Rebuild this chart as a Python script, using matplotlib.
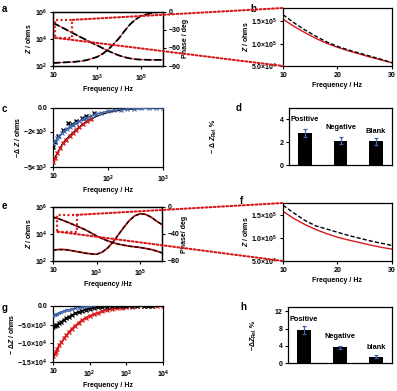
import numpy as np
import matplotlib
matplotlib.use('Agg')
import matplotlib.pyplot as plt
from matplotlib.patches import Rectangle, ConnectionPatch
from matplotlib.ticker import FixedLocator, FixedFormatter, NullLocator

plt.rcParams.update({
    'font.family': ['Liberation Sans', 'DejaVu Sans'],
    'font.weight': 'bold',
    'font.size': 5,
    'mathtext.fontset': 'custom',
    'mathtext.rm': 'Liberation Sans:bold',
    'mathtext.it': 'Liberation Sans:italic:bold',
    'mathtext.bf': 'Liberation Sans:bold',
    'mathtext.default': 'rm',
    'axes.linewidth': 0.9,
    'axes.labelweight': 'bold',
    'axes.labelpad': 2,
    'xtick.major.width': 0.8,
    'ytick.major.width': 0.8,
    'xtick.major.size': 2.5,
    'ytick.major.size': 2.5,
    'xtick.major.pad': 2,
    'ytick.major.pad': 1.5,
})

RED = '#d7191c'
BLUE = '#3f62a8'
DOT = (0, (0.9, 1.1))

# ---------------- data ----------------
# panel a (bode plot)
a_freq = [10, 18, 32, 56, 100, 178, 316, 562, 1e3, 1.78e3, 3.16e3, 5.62e3,
          1e4, 1.78e4, 3.16e4, 5.62e4, 1e5, 3.16e5, 1e6]
a_z = [1.51e5, 9.3e4, 5.75e4, 3.55e4, 2.19e4, 1.35e4, 8.5e3, 5.25e3, 3.31e3,
       2.09e3, 1.32e3, 870, 600, 447, 363, 316, 295, 282, 282]
a_phase = [-85, -84.5, -84, -83.5, -83, -82, -80.5, -78, -75, -70, -63, -54,
           -44, -32, -21, -13, -7, -2, 0]

# panel b (zoom 10-30 Hz)
b_freq = [10, 12, 14, 16, 18, 20, 22, 24, 26, 28, 30]
b_black = [1.65e5, 1.47e5, 1.31e5, 1.17e5, 1.04e5, 9.4e4, 8.6e4, 7.9e4, 7.2e4, 6.5e4, 5.75e4]
b_red = [1.55e5, 1.39e5, 1.25e5, 1.12e5, 1.01e5, 9.2e4, 8.4e4, 7.7e4, 7.0e4, 6.35e4, 5.7e4]

# panel c (delta Z)
c_red_f = [10, 11, 12, 13.5, 15, 17, 20, 23, 26, 30, 35, 42, 50, 70, 100, 200, 500, 1000]
c_red = [-4600, -4200, -3800, -3400, -3000, -2700, -2350, -2100, -1850, -1600,
         -1350, -1100, -900, -600, -380, -130, -30, 0]
c_black_f = [10, 11, 12.5, 15, 19, 22, 26, 33, 40, 55]
c_black = [-3300, -2900, -2400, -1900, -1300, -1350, -1100, -850, -700, -450]
c_blue_f = [10, 11, 12, 13, 14.5, 16, 18, 20, 23, 26, 30, 35, 40, 50, 60, 75, 100,
            130, 170, 220, 300, 400, 550, 750, 1000]
c_blue = [-3000, -2800, -2550, -2350, -2150, -1950, -1750, -1600, -1400, -1250,
          -1100, -950, -820, -650, -520, -400, -270, -190, -130, -90, -55, -35, -20, -10, -5]

# panel d (bars)
d_cats = ['Positive', 'Negative', 'Blank']
d_vals = [2.8, 2.13, 2.07]
d_errs = [0.36, 0.3, 0.3]

# panel e (bode plot)
e_freq = [10, 18, 32, 56, 100, 178, 316, 562, 1e3, 1.78e3, 3.16e3, 5.62e3,
          1e4, 1.78e4, 3.16e4, 5.62e4, 1e5, 1.78e5, 3.16e5, 5.62e5, 1e6]
e_z = [1.8e5, 1.35e5, 9.5e4, 6.6e4, 4.47e4, 3.0e4, 2.0e4, 1.2e4, 7.1e3, 4.6e3,
       3.16e3, 2.3e3, 1.78e3, 1.48e3, 1.26e3, 1.12e3, 1.0e3, 850, 710, 550, 400]
e_phase = [-64, -63, -63, -64, -65.5, -67, -68.5, -69.5, -70, -67, -61, -52,
           -41, -30, -20, -13, -10, -11, -15, -21, -26]

# panel f (zoom 10-30 Hz)
f_freq = [10, 12, 14, 16, 18, 20, 22, 24, 26, 28, 30]
f_black = [1.72e5, 1.55e5, 1.39e5, 1.27e5, 1.20e5, 1.13e5, 1.06e5, 1.0e5, 9.4e4, 8.9e4, 8.4e4]
f_red = [1.59e5, 1.43e5, 1.30e5, 1.19e5, 1.10e5, 1.02e5, 9.6e4, 9.05e4, 8.5e4, 8.0e4, 7.6e4]

# panel g (delta Z)
g_freq = [10, 11, 12, 13, 15, 17, 20, 23, 27, 32, 40, 50, 63, 80, 100, 130, 170,
          220, 300, 400, 550, 750, 1000, 1400, 2000, 3000, 4000, 5000]
g_red_f = g_freq + [7000, 10000]
g_red = [-13500, -12800, -12200, -11500, -10500, -9700, -8700, -7900, -7000, -6200,
         -5300, -4500, -3700, -3100, -2600, -2200, -1800, -1450, -1100, -850, -650,
         -450, -320, -200, -100, -40, -10, 0, 0, 0]
g_black = [-5500, -5400, -5200, -5000, -4600, -4200, -3700, -3300, -2900, -2500,
           -2000, -1600, -1250, -950, -750, -550, -400, -280, -180, -110, -60, -30,
           -15, -5, 0, 0, 0, 0]
g_blue = [-2600, -2400, -2200, -2050, -1800, -1600, -1350, -1150, -950, -800, -600,
          -450, -330, -240, -180, -120, -80, -50, -30, -15, -8, -4, 0, 0, 0, 0, 0, 0]

# panel h (bars)
h_cats = ['Positive', 'Negative', 'blank']
h_vals = [7.6, 3.6, 1.5]
h_errs = [0.95, 0.45, 0.25]

# ---------------- figure ----------------
fig = plt.figure(figsize=(3.97, 3.91), dpi=100)


def fix_ticks(axis, vals, labels):
    axis.set_major_locator(FixedLocator(vals))
    axis.set_major_formatter(FixedFormatter(labels))
    axis.set_minor_locator(NullLocator())


def bode(rect, freq, z, phase, ph_lim, ph_ticks, ph_label, xlabel, zoom_box, target, style):
    ax = fig.add_axes(rect)
    ax.set_xscale('log'); ax.set_yscale('log')
    ax2 = ax.twinx()
    if style == 'a':
        ax.plot(freq, z, color=RED, lw=0.7)
        ax.plot(freq, z, color='k', lw=1.3, ls=(0, (4, 1.5)))
        ax2.plot(freq, phase, color=RED, lw=0.7)
        ax2.plot(freq, phase, color='k', lw=1.3, ls=(0, (4, 1.5)))
    else:
        ax.plot(freq, z, color='#b01515', lw=1.3)
        ax.plot(freq, z, color='k', lw=0.9, ls=(0, (3, 2)))
        ax2.plot(freq, phase, color='#b01515', lw=1.3)
        ax2.plot(freq, phase, color='k', lw=0.9, ls=(0, (3, 2)))
    ax.set_xlim(10, 1e6); ax.set_ylim(1e2, 1e6)
    ax2.set_ylim(*ph_lim)
    fix_ticks(ax.xaxis, [10, 1e3, 1e5], ['10', '10$^3$', '10$^5$'])
    fix_ticks(ax.yaxis, [1e2, 1e4, 1e6], ['10$^2$', '10$^4$', '10$^6$'])
    fix_ticks(ax2.yaxis, ph_ticks, [('−%d' % -t) if t < 0 else '%d' % t for t in ph_ticks])
    ax.set_xlabel(xlabel)
    ax.set_ylabel('$\\mathit{Z}$ / ohms', labelpad=1)
    ax2.set_ylabel(ph_label, labelpad=1)
    # zoom box and connectors
    (x0, x1), (y0, y1) = zoom_box
    r = Rectangle((x0, y0), x1 - x0, y1 - y0, transform=ax.transData, fill=False,
                  ec=RED, lw=1.6, ls=DOT, clip_on=False, zorder=10)
    fig.add_artist(r)
    for xyA, xyB in [((x1, y1), (0, 1)), ((x0, y0), (0, 0))]:
        con = ConnectionPatch(xyA=xyA, coordsA=ax.transData, xyB=xyB,
                              coordsB=target.transAxes, color=RED, lw=1.5,
                              ls=DOT, zorder=10)
        fig.add_artist(con)
    return ax


def zoom_panel(rect, freq, black, red, ylim):
    ax = fig.add_axes(rect)
    ax.plot(freq, red, color=RED, lw=1.0)
    ax.plot(freq, black, color='k', lw=1.0, ls=(0, (3, 1.5)))
    ax.set_xlim(10, 30); ax.set_ylim(*ylim)
    fix_ticks(ax.xaxis, [10, 20, 30], ['10', '20', '30'])
    fix_ticks(ax.yaxis, [5e4, 1e5, 1.5e5], ['5.0×10$^4$', '1.0×10$^5$', '1.5×10$^5$'])
    ax.set_xlabel('Frequency / Hz')
    ax.set_ylabel('$\\mathit{Z}$ / ohms', labelpad=1)
    return ax


def bar_panel(rect, cats, vals, errs, ylim, yticks, label_y, ylabel, ylabel_x):
    ax = fig.add_axes(rect)
    x = np.arange(len(cats))
    ax.bar(x, vals, width=0.38, color='k')
    ax.errorbar(x, vals, yerr=errs, fmt='none', ecolor=BLUE, elinewidth=0.9,
                capsize=1.6, capthick=0.9)
    for xi, c, ly in zip(x, cats, label_y):
        ax.text(xi, ly, c, ha='center', va='center', fontsize=5.3)
    ax.set_xlim(-0.45, 2.45); ax.set_ylim(*ylim)
    ax.set_xticks([])
    fix_ticks(ax.yaxis, yticks, [str(t) for t in yticks])
    ax.set_ylabel(ylabel)
    ax.yaxis.set_label_coords(ylabel_x, 0.5)
    return ax


ax_b = zoom_panel([0.7128, 0.8312, 0.2746, 0.1483], b_freq, b_black, b_red, (5e4, 1.8e5))
ax_a = bode([0.1335, 0.8312, 0.2771, 0.1389], a_freq, a_z, a_phase, (-90, 0),
            [0, -30, -60, -90], 'Phase / deg', 'Frequency / Hz',
            ((12.5, 76), (1.2e4, 2.5e5)), ax_b, 'a')

ax_f = zoom_panel([0.7128, 0.3325, 0.2746, 0.1483], f_freq, f_black, f_red, (5e4, 1.77e5))
ax_e = bode([0.1335, 0.3325, 0.2746, 0.1381], e_freq, e_z, e_phase, (-80, 0),
            [0, -40, -80], 'Phase/ deg', 'Frequency /Hz',
            ((16, 120), (1.5e4, 2.6e5)), ax_f, 'e')

# panel c
ax_c = fig.add_axes([0.1335, 0.5729, 0.2771, 0.1509])
ax_c.set_xscale('log')
ax_c.plot(c_red_f, c_red, color='k', lw=0.9, zorder=2)
ax_c.plot(c_red_f[:13], c_red[:13], ls='none', marker='x', ms=2.5, mew=1.0, color=RED, zorder=3)
ax_c.plot(c_black_f, c_black, ls='none', marker='x', ms=2.5, mew=1.0, color='k', zorder=4)
ax_c.plot(c_blue_f, c_blue, color=BLUE, lw=0.9, marker='x', ms=2.2, mew=0.8, zorder=5)
ax_c.set_xlim(10, 1000); ax_c.set_ylim(-5000, 0)
fix_ticks(ax_c.xaxis, [10, 100, 1000], ['10', '10$^2$', '10$^3$'])
fix_ticks(ax_c.yaxis, [0, -2000, -5000], ['0.0', '−2×10$^3$', '−5×10$^3$'])
ax_c.set_xlabel('Frequency / Hz')
ax_c.set_ylabel('−Δ $\\mathit{Z}$ / ohms', labelpad=1)

# panel g
ax_g = fig.add_axes([0.1335, 0.0742, 0.2771, 0.1432])
ax_g.set_xscale('log')
ax_g.plot(g_red_f, g_red, color=RED, lw=1.2, marker='x', ms=2.2, mew=0.9, zorder=2)
ax_g.plot(g_freq, g_blue, color=BLUE, lw=1.0, marker='x', ms=2.0, mew=0.8, zorder=3)
ax_g.plot(g_freq, g_black, color='k', lw=1.2, marker='x', ms=2.2, mew=0.9, zorder=4)
ax_g.set_xlim(10, 1e4); ax_g.set_ylim(-15000, 0)
fix_ticks(ax_g.xaxis, [10, 100, 1000, 1e4], ['10', '10$^2$', '10$^3$', '10$^4$'])
fix_ticks(ax_g.yaxis, [0, -5000, -10000, -15000],
          ['0.0', '−5.0×10$^3$', '−1.0×10$^4$', '−1.5×10$^4$'])
ax_g.set_xlabel('Frequency / Hz')
ax_g.set_ylabel('− Δ$\\mathit{Z}$ / ohms', labelpad=1)

# bar panels
bar_panel([0.728, 0.578, 0.2594, 0.1458], d_cats, d_vals, d_errs, (0, 5), [0, 2, 4],
          [4.0, 3.25, 2.9], '− Δ $\\mathit{Z}_{\\mathrm{Rel}}$ %', -0.68)
bar_panel([0.7254, 0.0716, 0.262, 0.1432], h_cats, h_vals, h_errs, (0, 13), [0, 4, 8, 12],
          [10.0, 6.2, 3.6], '−Δ$\\mathit{Z}_{\\mathrm{Rel}}$ %', -0.28)

# panel letters
for lab, (px, py) in {'a': (2, 4), 'b': (250, 4), 'c': (2, 104), 'd': (236, 103),
                      'e': (2, 201), 'f': (240, 196), 'g': (2, 303), 'h': (240, 302)}.items():
    fig.text(px / 397, 1 - py / 391, lab, fontsize=7, fontweight='bold', va='top', ha='left')

fig.savefig('out.png', dpi=100)
